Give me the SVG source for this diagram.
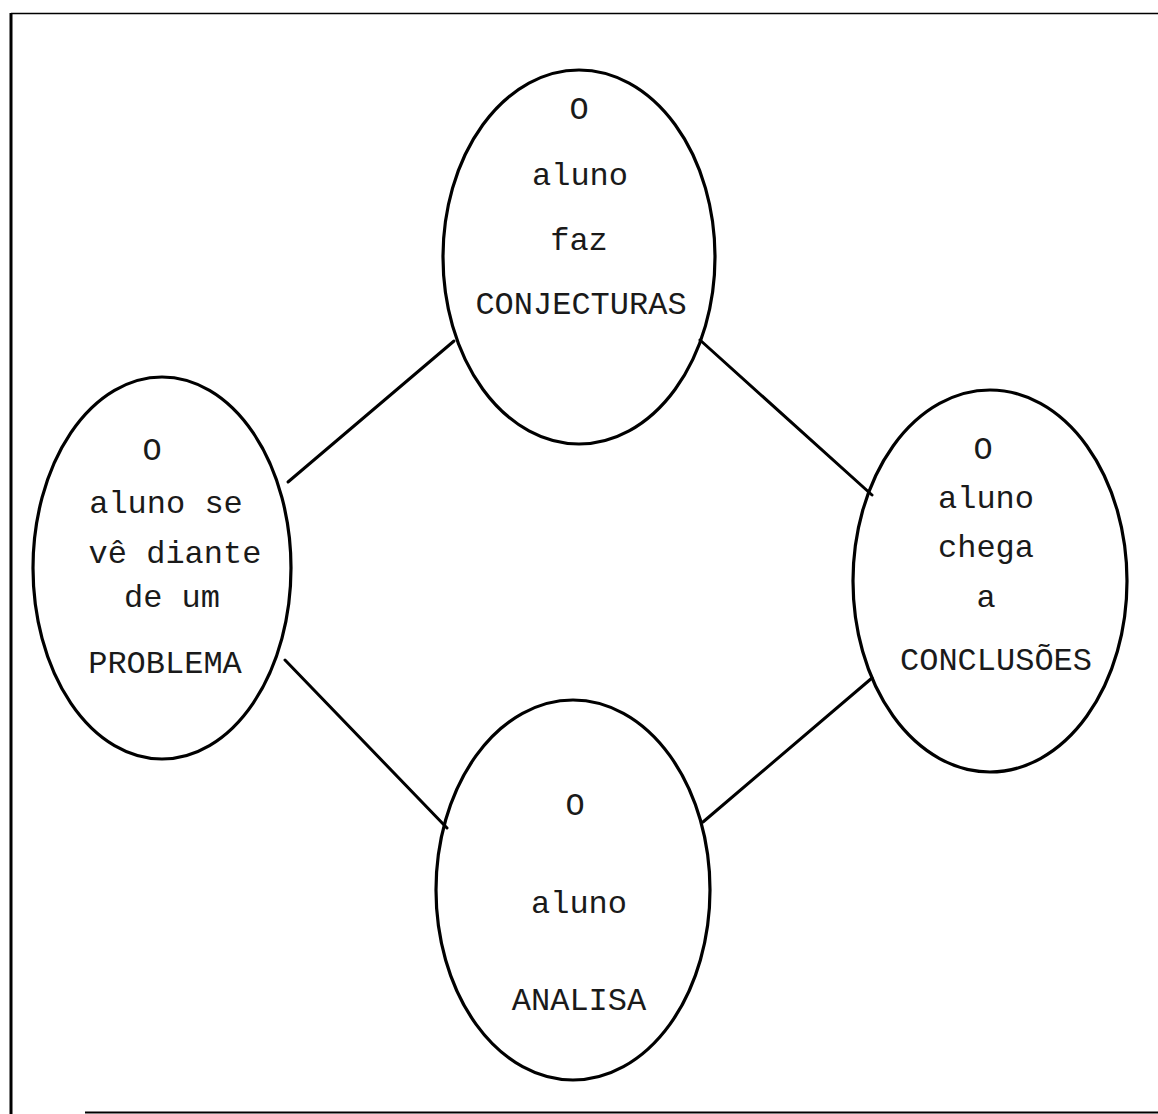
<svg xmlns="http://www.w3.org/2000/svg" width="1158" height="1114" viewBox="0 0 1158 1114">
  <style>
    .node ellipse { fill: none; stroke: #000; stroke-width: 3.2; }
    .node text { font-family: "Liberation Mono", "DejaVu Sans Mono", monospace; font-size: 32px; fill: #1a1a1a; text-anchor: middle; }
    #connectors line { stroke: #000; stroke-width: 3; stroke-linecap: round; }
    .frame { stroke: #000; fill: none; }
  </style>
  <rect width="1158" height="1114" fill="#fff"/>

  <!-- page frame -->
  <g id="frame">
    <line class="frame" x1="11" y1="13.5" x2="1158" y2="13.5" stroke-width="1.5" stroke="#222"/>
    <line class="frame" x1="11" y1="13" x2="11" y2="1114" stroke-width="3"/>
    <line class="frame" x1="85" y1="1112.5" x2="1158" y2="1112.5" stroke-width="1.8"/>
  </g>

  <!-- links between the four stages -->
  <g id="connectors">
    <line x1="288" y1="482" x2="454" y2="341"/>
    <line x1="700" y1="340" x2="872" y2="495"/>
    <line x1="285" y1="660" x2="447" y2="828" stroke-width="4"/>
    <line x1="872" y1="678" x2="703" y2="822"/>
  </g>

  <g id="node-conjecturas" class="node">
    <ellipse cx="579" cy="257" rx="136" ry="187"/>
    <text x="579" y="119">O</text>
    <text x="580" y="185">aluno</text>
    <text x="579" y="250">faz</text>
    <text x="581" y="314">CONJECTURAS</text>
  </g>

  <g id="node-problema" class="node">
    <ellipse cx="162" cy="568" rx="129" ry="191"/>
    <text x="152" y="460">O</text>
    <text x="166" y="513">aluno se</text>
    <text x="175" y="563">vê diante</text>
    <text x="172" y="607">de um</text>
    <text x="165" y="673">PROBLEMA</text>
  </g>

  <g id="node-conclusoes" class="node">
    <ellipse cx="990" cy="581" rx="137" ry="191"/>
    <text x="983" y="459">O</text>
    <text x="986" y="508">aluno</text>
    <text x="986" y="557">chega</text>
    <text x="986" y="607">a</text>
    <text x="996" y="670">CONCLUSÕES</text>
  </g>

  <g id="node-analisa" class="node">
    <ellipse cx="573" cy="890" rx="137" ry="190"/>
    <text x="575" y="815">O</text>
    <text x="579" y="913">aluno</text>
    <text x="579" y="1010">ANALISA</text>
  </g>
</svg>
